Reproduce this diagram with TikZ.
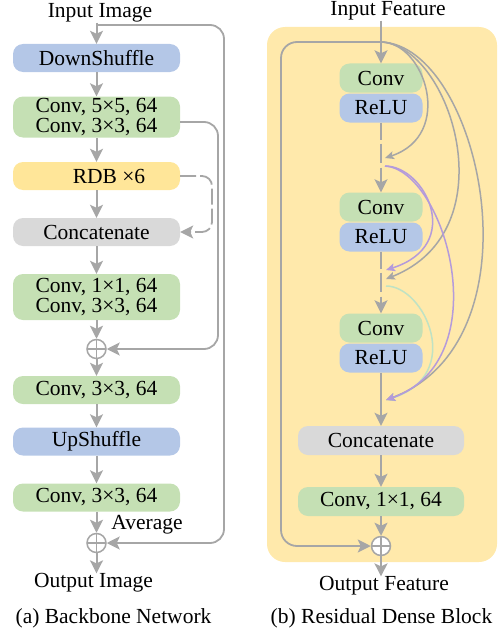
\documentclass[tikz,border=0pt]{standalone}
\usepackage{fontspec}
\setmainfont{Liberation Serif}
\usetikzlibrary{arrows.meta,calc}
\definecolor{cblue}{HTML}{B4C7E7}
\definecolor{cgreen}{HTML}{C5E0B4}
\definecolor{cyellow}{HTML}{FFE699}
\definecolor{cbg}{HTML}{FFE9AB}
\definecolor{cgray}{HTML}{D9D9D9}
\definecolor{lgray}{HTML}{A6A6A6}
\definecolor{cpurple}{HTML}{B49BDB}
\definecolor{cgreenline}{HTML}{BFE2C4}
\begin{document}
\begin{tikzpicture}[x=1pt,y=-1pt,
  box/.style={rounded corners=10pt, inner sep=0pt, font=\fontsize{21.5}{20.5}\selectfont, align=center, text=black},
  lbox/.style={box, minimum width=167pt, minimum height=28pt},
  rbox/.style={box, minimum width=83pt, minimum height=29pt},
  wbox/.style={box, minimum width=166pt, minimum height=29pt},
  lab/.style={font=\fontsize{21.5}{24}\selectfont, inner sep=0pt, text=black},
  main/.style={draw=lgray, line width=2pt},
  arr/.style={main, -{Stealth[length=13pt,width=13pt,inset=3pt]}},
  skip/.style={draw=lgray, line width=1.8pt, -{Stealth[length=13pt,width=13pt,inset=3pt]}},
  thinarr/.style={line width=1.5pt, -{Stealth[length=9pt,width=8pt,inset=2pt]}},
  oplus/.style={circle, draw=lgray, line width=1.5pt, fill=white, minimum size=19pt, inner sep=0pt,
    path picture={\draw[lgray, line width=1.5pt] (path picture bounding box.north) -- (path picture bounding box.south)
      (path picture bounding box.west) -- (path picture bounding box.east);}},
]
\useasboundingbox (0,0) rectangle (498,634);

% ---------- right panel background ----------
\fill[cbg, rounded corners=18pt] (267,27) rectangle (497,562);

% ---------- left panel ----------
\node[lab] (inimg) at (100,13) {Input Image};
\node[lbox, fill=cblue] (down) at (96.5,58) {DownShuffle};
\node[lbox, fill=cgreen, minimum height=41pt] (c1) at (96.5,117) {Conv, 5×5, 64\\Conv, 3×3, 64};
\node[lbox, fill=cyellow] (rdb) at (96.5,176) {\hspace*{25pt}RDB ×6};
\node[lbox, fill=cgray] (cat) at (96.5,232) {Concatenate};
\node[lbox, fill=cgreen, minimum height=46pt] (c2) at (96.5,297) {Conv, 1×1, 64\\Conv, 3×3, 64};
\node[oplus] (p1) at (96.5,349) {};
\node[lbox, fill=cgreen] (c3) at (96.5,390) {Conv, 3×3, 64};
\node[lbox, fill=cblue] (up) at (96.5,441.5) {UpShuffle};
\node[lbox, fill=cgreen] (c4) at (96.5,497.5) {Conv, 3×3, 64};
\node[oplus] (p2) at (96.5,543) {};
\node[lab] (avg) at (147,525) {Average};
\node[lab] (outimg) at (93.5,583) {Output Image};
\node[lab] (capa) at (113.5,618) {(a) Backbone Network};

\coordinate (tap) at (96.5,25);
\draw[arr] (inimg.south -| down.north) -- (down.north);
\draw[arr] (down) -- (c1);
\draw[arr] (c1) -- (rdb);
\draw[arr] (rdb) -- (cat);
\draw[arr] (cat) -- (c2);
\draw[arr] (c2) -- (p1);
\draw[arr] (p1) -- (c3);
\draw[arr] (c3) -- (up);
\draw[arr] (up) -- (c4);
\draw[arr] (c4) -- (p2);
\draw[arr] (p2) -- (outimg.north -| p2.south);

\draw[skip, rounded corners=14pt] (tap) -- (224,25) |- (p2.east);
\draw[skip, rounded corners=14pt] ($(c1.east)+(0,5)$) -- (218,122) |- (p1.east);
\draw[skip, rounded corners=10pt, dash pattern=on 16pt off 4pt] (rdb.east) -- (212,176) |- (cat.east);

% ---------- right panel ----------
\node[lab] (inf) at (388,11) {Input Feature};
\node[rbox, fill=cgreen] (k1) at (381,78) {Conv};
\node[rbox, fill=cblue] (r1) at (381,108) {ReLU};
\node[rbox, fill=cgreen] (k2) at (381,207) {Conv};
\node[rbox, fill=cblue] (r2) at (381,237) {ReLU};
\node[rbox, fill=cgreen] (k3) at (381,328) {Conv};
\node[rbox, fill=cblue] (r3) at (381,358) {ReLU};
\node[wbox, fill=cgray] (rcat) at (381,440.5) {Concatenate};
\node[wbox, fill=cgreen] (rconv) at (381,501.5) {Conv, 1×1, 64};
\node[oplus] (rp) at (381,546) {};
\node[lab] (outf) at (384,586) {Output Feature};
\node[lab] (capb) at (381.5,618) {(b) Residual Dense Block};

\coordinate (rtap) at (381,42);
\coordinate (d1) at (385,158);
\coordinate (s1) at (385,166);
\coordinate (d2a) at (386,270);
\coordinate (d2b) at (386,279);
\coordinate (s2) at (386,286);
\coordinate (d3) at (386,400);

\draw[arr] (inf.south -| k1.north) -- (k1.north);
\draw[main] (r1.south) -- ++(0,17);
\draw[main] ($(r1.south)+(0,21)$) -- ++(0,19);
\draw[arr] ($(r1.south)+(0,45)$) -- (k2.north);
\draw[main] (r2.south) -- ++(0,17);
\draw[main] ($(r2.south)+(0,21)$) -- ++(0,19);
\draw[arr] ($(r2.south)+(0,45)$) -- (k3.north);
\draw[arr] (r3) -- (rcat);
\draw[arr] (rcat) -- (rconv);
\draw[arr] (rconv) -- (rp);
\draw[arr] (rp) -- (outf.north -| rp.south);

\draw[skip, rounded corners=16pt] (rtap) -- (281,42) |- (rp.west);

\draw[thinarr, cgreenline] (s2) .. controls (425,286) and (465,375) .. (d3);
\draw[thinarr, lgray] (rtap) .. controls (425,42) and (455,135) .. (d1);
\draw[thinarr, lgray] (rtap) .. controls (450,45) and (510,230) .. (d2b);
\draw[thinarr, lgray] (rtap) .. controls (480,45) and (545,340) .. (d3);
\draw[thinarr, cpurple] (s1) .. controls (425,166) and (465,245) .. (d2a);
\draw[thinarr, cpurple] (s1) .. controls (445,170) and (500,360) .. (d3);
\end{tikzpicture}
\end{document}
